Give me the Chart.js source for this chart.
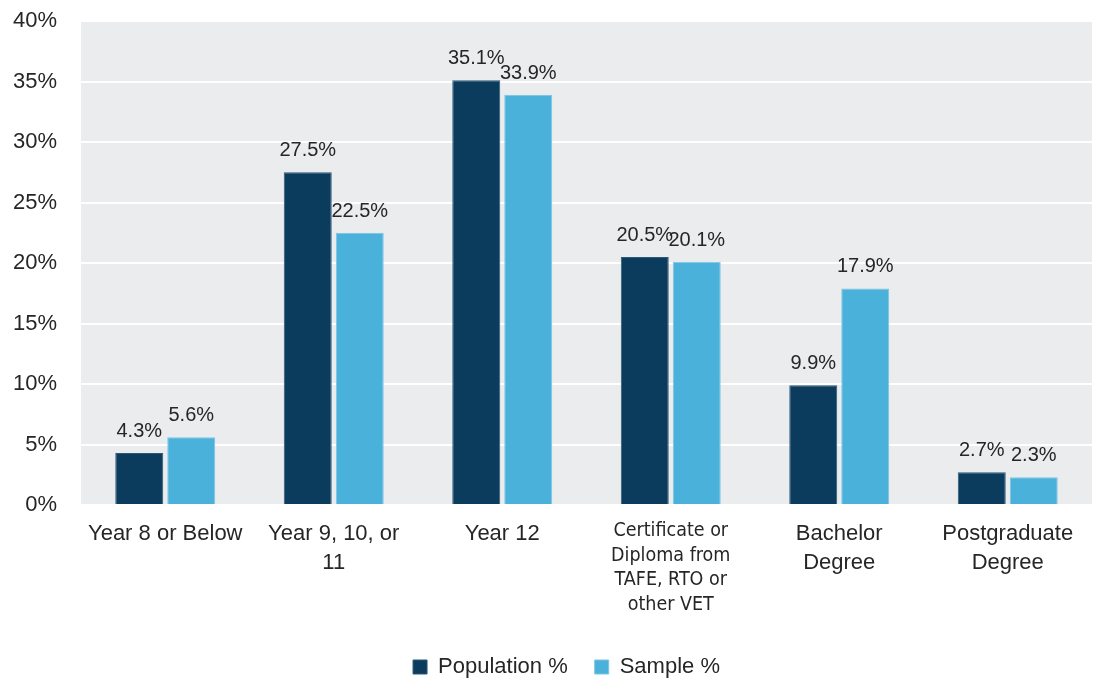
<!DOCTYPE html>
<html>
<head>
<meta charset="utf-8">
<script src="https://cdn.jsdelivr.net/npm/chart.js@4"></script>
<style>
  html, body { margin: 0; padding: 0; background: #fff; }
  #wrap { width: 1101px; height: 680px; }
</style>
</head>
<body>
<div id="wrap"><canvas id="eduChart" width="1101" height="680"></canvas></div>
<script>
const categories = [
    ["Year 8 or Below"],
    ["Year 9, 10, or", "11"],
    ["Year 12"],
    ["Certificate or", "Diploma from", "TAFE, RTO or", "other VET"],
    ["Bachelor", "Degree"],
    ["Postgraduate", "Degree"]
];
const populationPct = [4.3, 27.5, 35.1, 20.5, 9.9, 2.7];
const samplePct = [5.6, 22.5, 33.9, 20.1, 17.9, 2.3];

const FONT = '"Liberation Sans", Arial, sans-serif';

// szare tło pod obszarem wykresu
const plotBackground = {
    id: 'plotBackground',
    beforeDraw(chart) {
        const { ctx, chartArea: a } = chart;
        ctx.save();
        ctx.fillStyle = '#EBECEE';
        ctx.fillRect(a.left, a.top, a.right - a.left, a.bottom - a.top);
        ctx.restore();
    },
    afterLayout(chart) {
        // legenda jest w oryginale lekko przesunięta w prawo
        chart.legend.left += 14;
        chart.legend.right += 14;
    }
};

// etykiety wartości nad słupkami
const valueLabels = {
    id: 'valueLabels',
    afterDatasetsDraw(chart) {
        const ctx = chart.ctx;
        ctx.save();
        ctx.font = '20px ' + FONT;
        ctx.fillStyle = '#262626';
        ctx.textAlign = 'center';
        ctx.textBaseline = 'alphabetic';
        chart.data.datasets.forEach((ds, i) => {
            chart.getDatasetMeta(i).data.forEach((bar, j) => {
                ctx.fillText(ds.data[j].toFixed(1) + '%', bar.x, bar.y - 16);
            });
        });
        ctx.restore();
    }
};

const ctx = document.getElementById('eduChart').getContext('2d');
new Chart(ctx, {
    type: 'bar',
    data: {
        labels: categories,
        datasets: [{
            label: 'Population %',
            data: populationPct,
            backgroundColor: '#0B3C5D',
            borderColor: '#2F5877',
            borderWidth: 1,
            categoryPercentage: 0.617,
            barPercentage: 0.923
        }, {
            label: 'Sample %',
            data: samplePct,
            backgroundColor: '#4AB1DB',
            borderColor: '#7CC4E4',
            borderWidth: 1,
            categoryPercentage: 0.617,
            barPercentage: 0.923
        }]
    },
    options: {
        responsive: false,
        animation: false,
        layout: { padding: { top: 0, right: 9, left: 13, bottom: -8 } },
        plugins: {
            legend: {
                position: 'bottom',
                labels: {
                    boxWidth: 14,
                    boxHeight: 14,
                    padding: 27,
                    color: '#262626',
                    font: { family: FONT, size: 22 }
                }
            },
            tooltip: { enabled: false }
        },
        scales: {
            x: {
                grid: { display: false },
                border: { display: false },
                afterFit: s => {
                    s.height = 124;
                    s.paddingLeft = 0;
                    s.paddingRight = 0;
                },
                ticks: {
                    color: '#262626',
                    maxRotation: 0,
                    autoSkip: false,
                    padding: 6,
                    font: c => c.index === 3
                        ? { family: '"DejaVu Sans Condensed", "DejaVu Sans", sans-serif', size: 19.5, lineHeight: 1.26 }
                        : { family: FONT, size: 22, lineHeight: 1.32 }
                }
            },
            y: {
                min: 0,
                max: 40,
                grid: { color: '#FFFFFF', lineWidth: 2, drawTicks: false },
                border: { display: false },
                afterFit: s => {
                    s.width = 68;
                    s.paddingTop = 21;
                    s.paddingBottom = 0;
                },
                ticks: {
                    stepSize: 5,
                    padding: 24,
                    color: '#262626',
                    font: { family: FONT, size: 22 },
                    callback: v => v + '%'
                }
            }
        }
    },
    plugins: [plotBackground, valueLabels]
});
</script>
</body>
</html>
